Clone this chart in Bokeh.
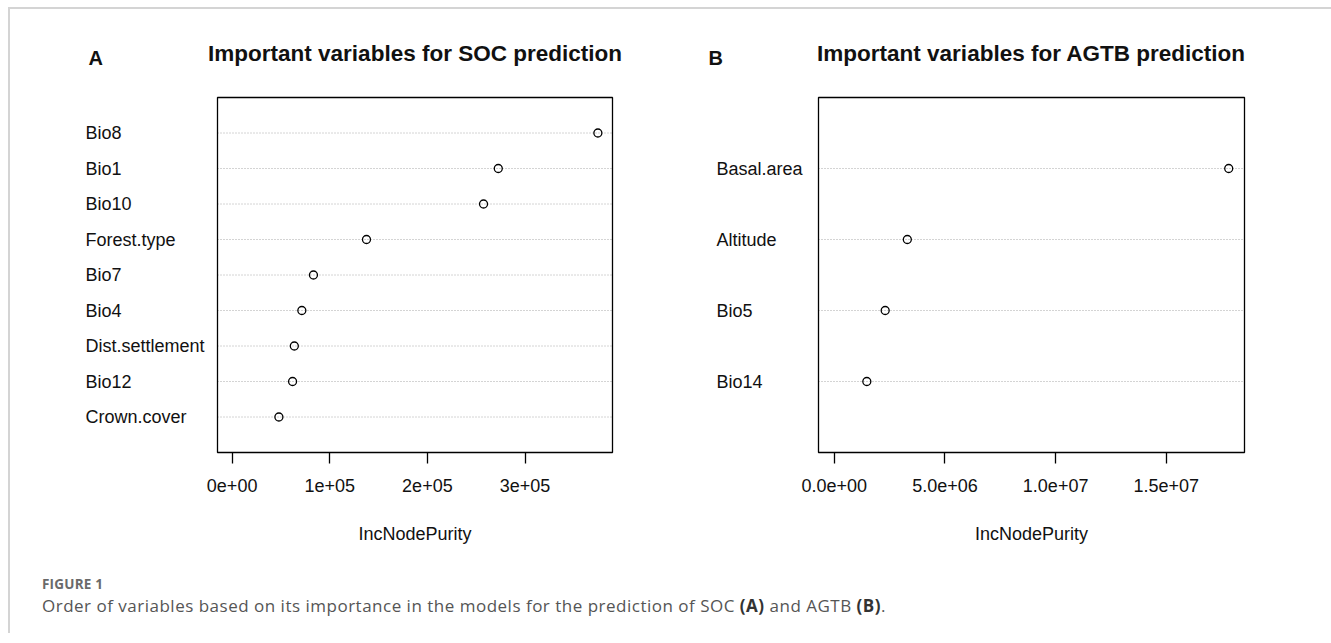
from bokeh.plotting import figure
from bokeh.models import Range1d, FixedTicker, Div
from bokeh.layouts import row, column
from bokeh.core.properties import value
from bokeh.embed import file_html
from bokeh.resources import INLINE

# ---------------- data ----------------
soc_vars = ["Bio8", "Bio1", "Bio10", "Forest.type", "Bio7", "Bio4",
            "Dist.settlement", "Bio12", "Crown.cover"]
soc_values = [374600, 272600, 257500, 137600, 83300, 71400, 63700, 61900, 47900]
soc_ticks = [0, 100000, 200000, 300000]
soc_tick_labels = ["0e+00", "1e+05", "2e+05", "3e+05"]
soc_title = "Important variables for SOC prediction"

agtb_vars = ["Basal.area", "Altitude", "Bio5", "Bio14"]
agtb_values = [17820000, 3300000, 2300000, 1470000]
agtb_ticks = [0, 5000000, 10000000, 15000000]
agtb_tick_labels = ["0.0e+00", "5.0e+06", "1.0e+07", "1.5e+07"]
agtb_title = "Important variables for AGTB prediction"

x_label = "IncNodePurity"
caption_head = "FIGURE 1"
caption_text = ("Order of variables based on its importance in the models for the "
                "prediction of SOC <b style='color:#333'>(A)</b> and AGTB "
                "<b style='color:#333'>(B)</b>.")

# ---------------- layout (page pixels) ----------------
FONT = "Liberation Sans"
INK = "#111111"
PAGE_TOP = 9          # top of the figures on the page
FIG_H = 560
BOX_T, BOX_B = 97, 452  # plot box top / bottom on the page


def make_panel(letter, title, names, values, ticks, tick_labels,
               fig_l, fig_r, box_l, box_r, name_px, letter_px):
    n = len(names)
    ypos = list(range(n, 0, -1))
    vmax = max(values)
    lo, hi = -0.04 * vmax, 1.04 * vmax      # R dotchart-style 4% extension
    ytop = n + 1
    kx = (hi - lo) / (box_r - box_l)
    ky = ytop / (BOX_B - BOX_T)

    def px2x(px):
        return lo + (px - box_l) * kx

    def py2y(py):
        return (BOX_B - py) * ky

    p = figure(width=fig_r - fig_l, height=FIG_H,
               x_range=Range1d(px2x(fig_l), px2x(fig_r)),
               y_range=Range1d(py2y(PAGE_TOP + FIG_H), py2y(PAGE_TOP)),
               output_backend="svg", toolbar_location=None,
               y_axis_location=None, title=None,
               min_border_left=0, min_border_right=0,
               min_border_top=0, min_border_bottom=0)
    p.background_fill_color = "white"
    p.border_fill_color = "white"
    p.outline_line_color = None
    p.grid.visible = False

    # dotted guide lines across the box
    p.segment(x0=[lo] * n, y0=ypos, x1=[hi] * n, y1=ypos,
              line_color="#a8a8a8", line_dash="1 2", line_width=1)
    # plot box
    p.quad(left=[lo], right=[hi], bottom=[0], top=[ytop],
           fill_color=None, line_color="black", line_width=1.3)
    # points
    p.scatter(values, ypos, marker="circle", size=8, fill_color=None,
              line_color="black", line_width=1.3)

    ax = p.xaxis[0]
    ax.fixed_location = 0
    ax.ticker = FixedTicker(ticks=ticks, minor_ticks=[])
    ax.major_label_overrides = dict(zip(ticks, tick_labels))
    ax.axis_line_color = None
    ax.major_tick_out = 11
    ax.major_tick_in = 0
    ax.minor_tick_out = 0
    ax.minor_tick_in = 0
    ax.major_tick_line_color = "black"
    ax.major_tick_line_width = 1.3
    ax.major_label_text_font = FONT
    ax.major_label_text_font_size = "18px"
    ax.major_label_text_color = INK
    ax.major_label_standoff = 15

    # variable names (left aligned, as in R dotchart)
    p.text(x=[px2x(name_px)] * n, y=ypos, text=names,
           text_align="left", text_baseline="middle",
           text_font=value(FONT), text_font_size="18px", text_color=INK)
    # title
    p.text(x=[(lo + hi) / 2], y=[py2y(53)], text=[title],
           text_align="center", text_baseline="middle",
           text_font=value(FONT), text_font_style="bold",
           text_font_size="22.5px", text_color=INK)
    # panel letter
    p.text(x=[px2x(letter_px)], y=[py2y(57)], text=[letter],
           text_align="left", text_baseline="middle",
           text_font=value(FONT), text_font_style="bold",
           text_font_size="20px", text_color=INK)
    # x axis title
    p.text(x=[(lo + hi) / 2], y=[py2y(533)], text=[x_label],
           text_align="center", text_baseline="middle",
           text_font=value(FONT), text_font_size="18px", text_color=INK)
    return p


pA = make_panel("A", soc_title, soc_vars, soc_values, soc_ticks,
                soc_tick_labels, fig_l=10, fig_r=660, box_l=217, box_r=612,
                name_px=85, letter_px=88)
pB = make_panel("B", agtb_title, agtb_vars, agtb_values, agtb_ticks,
                agtb_tick_labels, fig_l=660, fig_r=1331, box_l=818, box_r=1244,
                name_px=716, letter_px=708)

caption_html = (
    "<div style=\"font-family:'Open Sans';font-size:13.5px;font-weight:700;"
    "color:#6a6a6a;line-height:18px;margin-top:6px;letter-spacing:0.2px;\">"
    + caption_head + "</div>"
    "<div style=\"font-family:'Open Sans';font-size:17px;color:#555555;"
    "line-height:22px;margin-top:2px;white-space:nowrap;letter-spacing:0.5px;\">"
    + caption_text + "</div>"
)
caption = Div(text=caption_html, width=1250, height=64, margin=(0, 0, 0, 32))

layout = column(row(pA, pB, spacing=0), caption, spacing=0,
                margin=(7, 0, 0, 8),
                styles={"border-top": "2px solid #d4d4d4",
                        "border-left": "2px solid #d4d4d4"})

open("out.html", "w").write(file_html(layout, INLINE))
